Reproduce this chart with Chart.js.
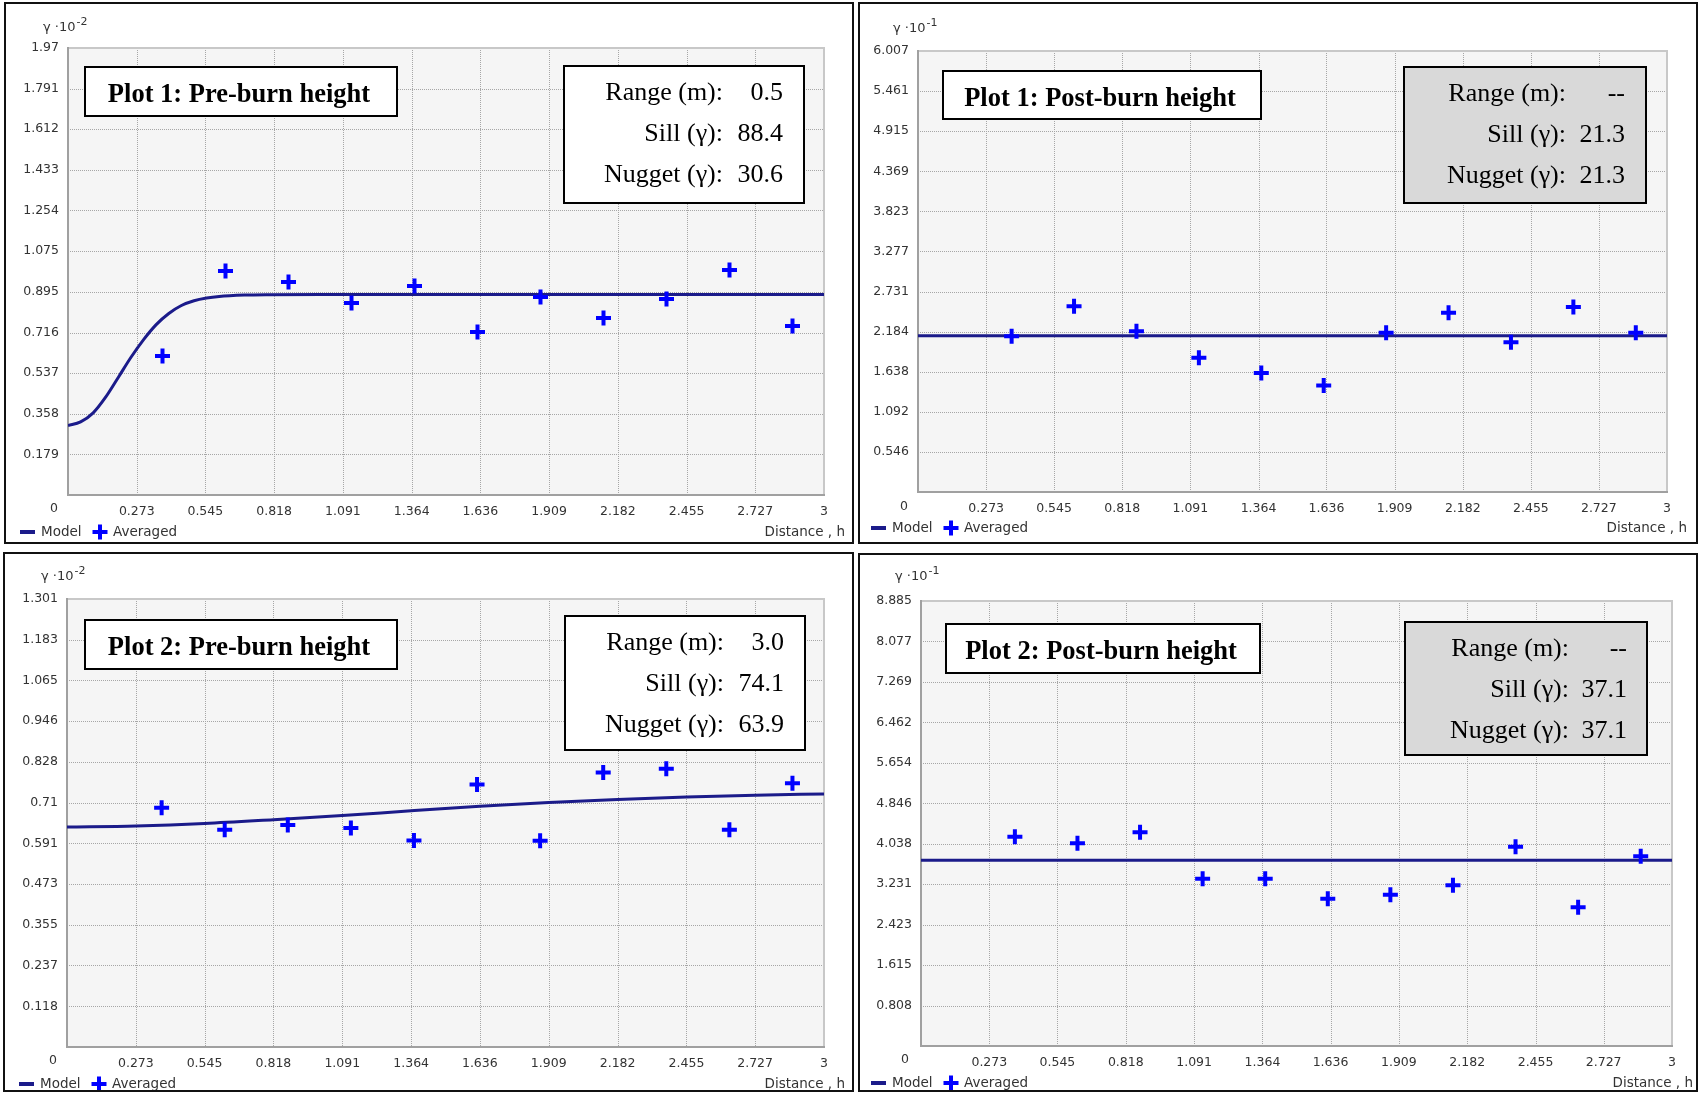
<!DOCTYPE html>
<html>
<head>
<meta charset="utf-8">
<script src="https://cdn.jsdelivr.net/npm/chart.js@4.4.1/dist/chart.umd.min.js"></script>
<style>
  html, body { margin: 0; padding: 0; background: #ffffff; }
  body { width: 1700px; height: 1093px; position: relative; overflow: hidden; }
  canvas { position: absolute; }
</style>
</head>
<body>
<canvas id="p1"></canvas>
<canvas id="p2"></canvas>
<canvas id="p3"></canvas>
<canvas id="p4"></canvas>
<script>
// ---- data -------------------------------------------------------------
// lag distances (m) of the averaged semivariances
const lagDistances = [0.375, 0.625, 0.875, 1.125, 1.375, 1.625, 1.875, 2.125, 2.375, 2.625, 2.875];
const distanceTicks = [0, 0.273, 0.545, 0.818, 1.091, 1.364, 1.636, 1.909, 2.182, 2.455, 2.727, 3];

// semivariance axes (scaled units)
const plot1PreTicks  = [0, 0.179, 0.358, 0.537, 0.716, 0.895, 1.075, 1.254, 1.433, 1.612, 1.791, 1.97];
const plot1PostTicks = [0, 0.546, 1.092, 1.638, 2.184, 2.731, 3.277, 3.823, 4.369, 4.915, 5.461, 6.007];
const plot2PreTicks  = [0, 0.118, 0.237, 0.355, 0.473, 0.591, 0.71, 0.828, 0.946, 1.065, 1.183, 1.301];
const plot2PostTicks = [0, 0.808, 1.615, 2.423, 3.231, 4.038, 4.846, 5.654, 6.462, 7.269, 8.077, 8.885];

// averaged empirical semivariances
const plot1PreAveraged  = [0.613, 0.987, 0.939, 0.846, 0.921, 0.718, 0.873, 0.780, 0.864, 0.992, 0.745];
const plot1PostAveraged = [2.12, 2.53, 2.19, 1.83, 1.62, 1.45, 2.17, 2.44, 2.04, 2.52, 2.17];
const plot2PreAveraged  = [0.695, 0.631, 0.645, 0.636, 0.600, 0.762, 0.599, 0.797, 0.808, 0.631, 0.766];
const plot2PostAveraged = [4.18, 4.05, 4.27, 3.34, 3.34, 2.94, 3.02, 3.21, 3.98, 2.77, 3.79];

// fitted model curves
const plot1PreModelX  = [0, 0.05, 0.1, 0.15, 0.2, 0.25, 0.3, 0.35, 0.4, 0.45, 0.5, 0.55, 0.6, 0.7, 0.8, 1.0, 3.0];
const plot1PreModelY  = [0.306, 0.322, 0.362, 0.432, 0.519, 0.607, 0.685, 0.751, 0.800, 0.835, 0.856, 0.868, 0.875, 0.881, 0.883, 0.884, 0.884];
const plot1PostModelX = [0, 3];
const plot1PostModelY = [2.13, 2.13];
const plot2PreModelX  = [0, 0.273, 0.545, 0.818, 1.091, 1.364, 1.636, 1.909, 2.182, 2.455, 2.727, 3];
const plot2PreModelY  = [0.639, 0.642, 0.649, 0.660, 0.672, 0.686, 0.699, 0.710, 0.719, 0.726, 0.731, 0.735];
const plot2PostModelX = [0, 3];
const plot2PostModelY = [3.71, 3.71];

// model parameters
const statLabels      = ['Range (m):', 'Sill (\u03B3):', 'Nugget (\u03B3):'];
const plot1PreStats   = ['0.5', '88.4', '30.6'];
const plot1PostStats  = ['--', '21.3', '21.3'];
const plot2PreStats   = ['3.0', '74.1', '63.9'];
const plot2PostStats  = ['--', '37.1', '37.1'];

// ---- styling ----------------------------------------------------------
const NAVY = '#1b1b8a';
const BLUE = '#0000ff';
const TEXT = '#333333';
const SANS = '"DejaVu Sans", sans-serif';
const SERIF = '"Liberation Serif", "Times New Roman", serif';
const AXIS_W = 56, AXIS_H = 30;

const panels = [
  { id: 'p1', canvas: { left: 4, top: 2, width: 850, height: 542 },
    area: { left: 68, top: 48, right: 824, bottom: 495 },
    yTicks: plot1PreTicks, averaged: plot1PreAveraged, modelX: plot1PreModelX, modelY: plot1PreModelY,
    unitExp: '-2', unitPos: { x: 43, y: 31 },
    title: 'Plot 1: Pre-burn height', titleBox: [85, 67, 397, 116],
    stats: plot1PreStats, statsBox: [564, 66, 804, 203], statsFill: '#ffffff', labelRight: 723, valueRight: 783,
    legend: { x: 20, y: 532 }, distanceRight: 845, zero: { x: 58, y: 509 } },
  { id: 'p2', canvas: { left: 858, top: 2, width: 840, height: 542 },
    area: { left: 918, top: 51, right: 1667, bottom: 492 },
    yTicks: plot1PostTicks, averaged: plot1PostAveraged, modelX: plot1PostModelX, modelY: plot1PostModelY,
    unitExp: '-1', unitPos: { x: 893, y: 32 },
    title: 'Plot 1: Post-burn height', titleBox: [943, 71, 1261, 119],
    stats: plot1PostStats, statsBox: [1404, 67, 1646, 203], statsFill: '#d9d9d9', labelRight: 1566, valueRight: 1625,
    legend: { x: 871, y: 528 }, distanceRight: 1687, zero: { x: 908, y: 507 } },
  { id: 'p3', canvas: { left: 3, top: 552, width: 851, height: 540 },
    area: { left: 67, top: 599, right: 824, bottom: 1047 },
    yTicks: plot2PreTicks, averaged: plot2PreAveraged, modelX: plot2PreModelX, modelY: plot2PreModelY,
    unitExp: '-2', unitPos: { x: 41, y: 580 },
    title: 'Plot 2: Pre-burn height', titleBox: [85, 620, 397, 669],
    stats: plot2PreStats, statsBox: [565, 616, 805, 750], statsFill: '#ffffff', labelRight: 724, valueRight: 784,
    legend: { x: 19, y: 1084 }, distanceRight: 845, zero: { x: 57, y: 1061 } },
  { id: 'p4', canvas: { left: 858, top: 553, width: 840, height: 539 },
    area: { left: 921, top: 601, right: 1672, bottom: 1046 },
    yTicks: plot2PostTicks, averaged: plot2PostAveraged, modelX: plot2PostModelX, modelY: plot2PostModelY,
    unitExp: '-1', unitPos: { x: 895, y: 580 },
    title: 'Plot 2: Post-burn height', titleBox: [946, 624, 1260, 673],
    stats: plot2PostStats, statsBox: [1405, 622, 1647, 755], statsFill: '#d9d9d9', labelRight: 1569, valueRight: 1627,
    legend: { x: 871, y: 1083 }, distanceRight: 1693, zero: { x: 909, y: 1060 } }
];

function drawCross(ctx, cx, cy, r, w, color) {
  ctx.save();
  ctx.strokeStyle = color;
  ctx.lineWidth = w;
  ctx.beginPath();
  ctx.moveTo(cx - r, cy); ctx.lineTo(cx + r, cy);
  ctx.moveTo(cx, cy - r); ctx.lineTo(cx, cy + r);
  ctx.stroke();
  ctx.restore();
}

// plot background, dotted grid, frame, and the annotation boxes
function makeOverlay(p) {
  const ox = p.canvas.left, oy = p.canvas.top;
  return {
    id: 'panelOverlay',
    beforeDatasetsDraw(chart) {
      const ctx = chart.ctx, a = chart.chartArea;
      const xs = chart.scales.x, ys = chart.scales.y;
      ctx.save();
      ctx.fillStyle = '#f5f5f5';
      ctx.fillRect(a.left, a.top, a.right - a.left, a.bottom - a.top);
      ctx.strokeStyle = '#a6a6a6';
      ctx.lineWidth = 1;
      ctx.setLineDash([1, 1]);
      ctx.beginPath();
      distanceTicks.slice(1, -1).forEach(v => {
        const px = Math.round(xs.getPixelForValue(v)) + 0.5;
        ctx.moveTo(px, a.top); ctx.lineTo(px, a.bottom);
      });
      p.yTicks.slice(1, -1).forEach(v => {
        const py = Math.round(ys.getPixelForValue(v)) + 0.5;
        ctx.moveTo(a.left, py); ctx.lineTo(a.right, py);
      });
      ctx.stroke();
      ctx.setLineDash([]);
      ctx.lineWidth = 2;
      ctx.strokeStyle = '#c8c8c8';
      ctx.beginPath();
      ctx.moveTo(a.left, a.top); ctx.lineTo(a.right, a.top); ctx.lineTo(a.right, a.bottom);
      ctx.stroke();
      ctx.strokeStyle = '#a0a0a0';
      ctx.beginPath();
      ctx.moveTo(a.left, a.top - 1); ctx.lineTo(a.left, a.bottom); ctx.lineTo(a.right + 1, a.bottom);
      ctx.stroke();
      ctx.restore();
    },
    afterDraw(chart) {
      const ctx = chart.ctx;
      ctx.save();
      ctx.textBaseline = 'alphabetic';

      // unit label of the semivariance axis
      ctx.fillStyle = TEXT;
      ctx.font = '13px ' + SANS;
      ctx.textAlign = 'left';
      const base = '\u03B3 \u00B710';
      ctx.fillText(base, p.unitPos.x - ox, p.unitPos.y - oy);
      const bw = ctx.measureText(base).width;
      ctx.font = '11px ' + SANS;
      ctx.fillText(p.unitExp, p.unitPos.x - ox + bw + 1, p.unitPos.y - oy - 6);

      // shared origin label
      ctx.font = '12.5px ' + SANS;
      ctx.textAlign = 'right';
      ctx.textBaseline = 'middle';
      ctx.fillText('0', p.zero.x - ox, p.zero.y - oy);

      // legend
      const lx = p.legend.x - ox, ly = p.legend.y - oy;
      ctx.fillStyle = NAVY;
      ctx.fillRect(lx, ly - 2, 15, 4);
      ctx.fillStyle = TEXT;
      ctx.font = '13.5px ' + SANS;
      ctx.textAlign = 'left';
      ctx.fillText('Model', lx + 21, ly);
      drawCross(ctx, lx + 80, ly, 7.5, 4, BLUE);
      ctx.fillText('Averaged', lx + 93, ly);
      ctx.textAlign = 'right';
      ctx.fillText('Distance , h', p.distanceRight - ox, ly);

      // title box
      const [tx0, ty0, tx1, ty1] = p.titleBox;
      ctx.fillStyle = '#ffffff';
      ctx.fillRect(tx0 - ox, ty0 - oy, tx1 - tx0, ty1 - ty0);
      ctx.strokeStyle = '#000000';
      ctx.lineWidth = 2;
      ctx.strokeRect(tx0 - ox, ty0 - oy, tx1 - tx0, ty1 - ty0);
      ctx.fillStyle = '#000000';
      ctx.font = 'bold 26.5px ' + SERIF;
      ctx.textAlign = 'center';
      ctx.textBaseline = 'alphabetic';
      ctx.fillText(p.title, (tx0 + tx1) / 2 - 2 - ox, ty0 + 35 - oy);

      // model parameter box
      const [sx0, sy0, sx1, sy1] = p.statsBox;
      ctx.fillStyle = p.statsFill;
      ctx.fillRect(sx0 - ox, sy0 - oy, sx1 - sx0, sy1 - sy0);
      ctx.strokeRect(sx0 - ox, sy0 - oy, sx1 - sx0, sy1 - sy0);
      ctx.fillStyle = '#000000';
      ctx.font = '26px ' + SERIF;
      ctx.textAlign = 'right';
      const offs = [34, 75, 116];
      statLabels.forEach((lab, i) => {
        ctx.fillText(lab, p.labelRight - ox, sy0 + offs[i] - oy);
        ctx.fillText(p.stats[i], p.valueRight - ox, sy0 + offs[i] - oy);
      });

      // panel frame
      ctx.strokeStyle = '#111111';
      ctx.lineWidth = 2;
      ctx.strokeRect(1, 1, chart.width - 2, chart.height - 2);
      ctx.restore();
    }
  };
}

function makeChart(p) {
  const cv = document.getElementById(p.id);
  cv.width = p.canvas.width;
  cv.height = p.canvas.height;
  cv.style.left = p.canvas.left + 'px';
  cv.style.top = p.canvas.top + 'px';
  cv.style.width = p.canvas.width + 'px';
  cv.style.height = p.canvas.height + 'px';
  const pad = {
    left: p.area.left - p.canvas.left - AXIS_W,
    top: p.area.top - p.canvas.top,
    right: p.canvas.left + p.canvas.width - p.area.right,
    bottom: p.canvas.top + p.canvas.height - p.area.bottom - AXIS_H
  };
  const yMax = p.yTicks[p.yTicks.length - 1];
  new Chart(cv, {
    type: 'scatter',
    data: {
      datasets: [
        { label: 'Averaged',
          data: lagDistances.map((x, i) => ({ x: x, y: p.averaged[i] })),
          pointStyle: 'cross', pointRadius: 7.5, pointBorderWidth: 4,
          pointBorderColor: BLUE, pointBackgroundColor: BLUE, showLine: false, order: 0 },
        { label: 'Model',
          data: p.modelX.map((x, i) => ({ x: x, y: p.modelY[i] })),
          showLine: true, borderColor: NAVY, borderWidth: 3, pointRadius: 0,
          cubicInterpolationMode: 'monotone', order: 1 }
      ]
    },
    options: {
      responsive: false,
      animation: false,
      devicePixelRatio: 1,
      layout: { padding: pad },
      plugins: { legend: { display: false }, tooltip: { enabled: false } },
      scales: {
        x: {
          type: 'linear', min: 0, max: 3,
          afterBuildTicks: s => { s.ticks = distanceTicks.map(v => ({ value: v })); },
          afterFit: s => { s.height = AXIS_H; },
          grid: { display: false, drawTicks: false }, border: { display: false },
          ticks: { autoSkip: false, maxRotation: 0, minRotation: 0, padding: 9, color: TEXT,
                   font: { family: SANS, size: 12.5 },
                   callback: v => (v === 0 ? '' : String(v)) }
        },
        y: {
          type: 'linear', min: 0, max: yMax,
          afterBuildTicks: s => { s.ticks = p.yTicks.map(v => ({ value: v })); },
          afterFit: s => { s.width = AXIS_W; },
          grid: { display: false, drawTicks: false }, border: { display: false },
          ticks: { autoSkip: false, padding: 9, color: TEXT,
                   font: { family: SANS, size: 12.5 },
                   callback: v => (v === 0 ? '' : String(v)) }
        }
      }
    },
    plugins: [makeOverlay(p)]
  });
}

panels.forEach(makeChart);
</script>
</body>
</html>
